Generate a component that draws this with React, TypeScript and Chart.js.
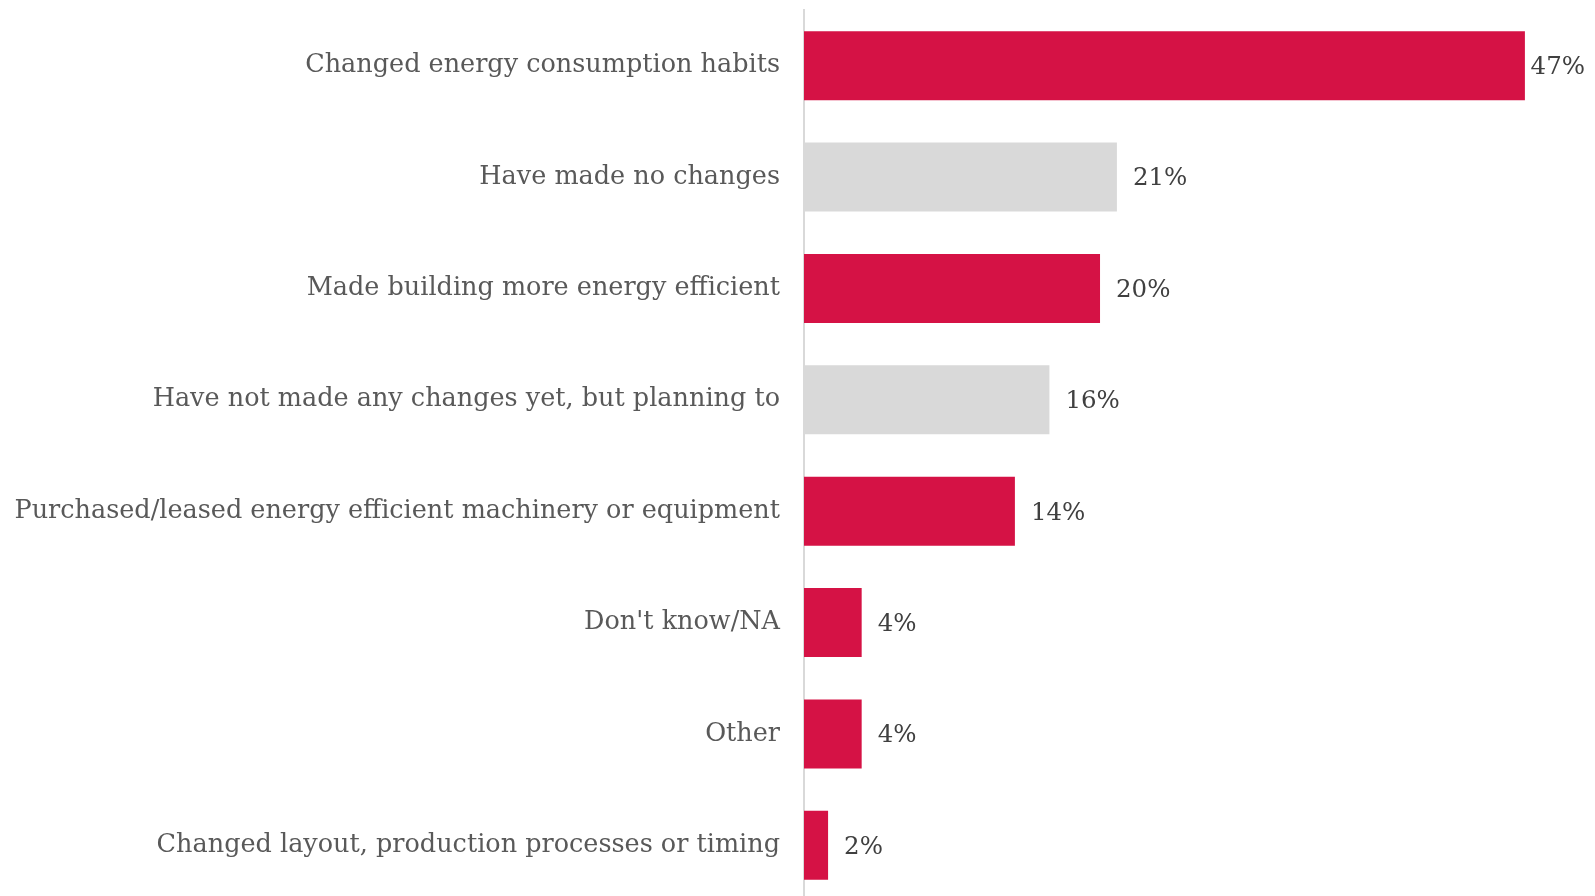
import React, { useEffect, useRef } from "react";
import { Chart, registerables } from "chart.js";

Chart.register(...registerables);

const categories = [
  "Changed energy consumption habits",
  "Have made no changes",
  "Made building more energy efficient",
  "Have not made any changes yet, but planning to",
  "Purchased/leased energy efficient machinery or equipment",
  "Don't know/NA",
  "Other",
  "Changed layout, production processes or timing",
];
const values = [47.0, 20.4, 19.3, 16.0, 13.75, 3.76, 3.76, 1.57];
const valueLabels = ["47%", "21%", "20%", "16%", "14%", "4%", "4%", "2%"];
const highlighted = [true, false, true, false, true, true, true, true];

const RED = "#D51245";
const GREY = "#D9D9D9";
const FONT = "'DejaVu Serif', serif";

const valueLabelPlugin = {
  id: "valueLabels",
  afterDatasetsDraw(chart: any) {
    const ctx = chart.ctx;
    const meta = chart.getDatasetMeta(0);
    ctx.save();
    ctx.font = `24.5px ${FONT}`;
    ctx.fillStyle = "#404040";
    ctx.textBaseline = "middle";
    ctx.textAlign = "left";
    meta.data.forEach((bar: any, i: number) => {
      const text = valueLabels[i];
      const w = ctx.measureText(text).width;
      let x = bar.x + 16;
      const maxRight = chart.width - 10;
      if (x + w > maxRight) x = maxRight - w;
      ctx.fillText(text, x, bar.y + 2);
    });
    ctx.restore();
  },
};

export default function App() {
  const ref = useRef<HTMLCanvasElement>(null);
  useEffect(() => {
    document.body.style.margin = "0";
    document.documentElement.style.overflow = "hidden";
    document.body.style.overflow = "hidden";
    const chart = new Chart(ref.current!, {
      type: "bar",
      data: {
        labels: categories,
        datasets: [
          {
            data: values,
            backgroundColor: highlighted.map((h) => (h ? RED : GREY)),
            borderWidth: 0,
            barPercentage: 0.62,
            categoryPercentage: 1,
          },
        ],
      },
      options: {
        indexAxis: "y",
        animation: false,
        responsive: false,
        maintainAspectRatio: false,
        layout: { padding: { top: 10, right: 0, bottom: 0, left: 0 } },
        plugins: { legend: { display: false }, tooltip: { enabled: false } },
        scales: {
          x: {
            display: false,
            min: 0,
            max: 51.57,
          },
          y: {
            afterFit(scale: any) {
              scale.width = 804;
              scale.paddingTop = 0;
              scale.paddingBottom = 0;
            },
            grid: { display: false, drawTicks: false },
            border: { display: true, color: GREY, width: 2 },
            ticks: {
              color: "#595959",
              font: { family: FONT, size: 25.5 },
              padding: 24,
              crossAlign: "near",
            },
          },
        },
      },
      plugins: [valueLabelPlugin],
    });
    return () => chart.destroy();
  }, []);
  return (
    <div style={{ width: 1595, height: 901 }}>
      <canvas ref={ref} width={1595} height={901} style={{ display: "block" }} />
    </div>
  );
}
